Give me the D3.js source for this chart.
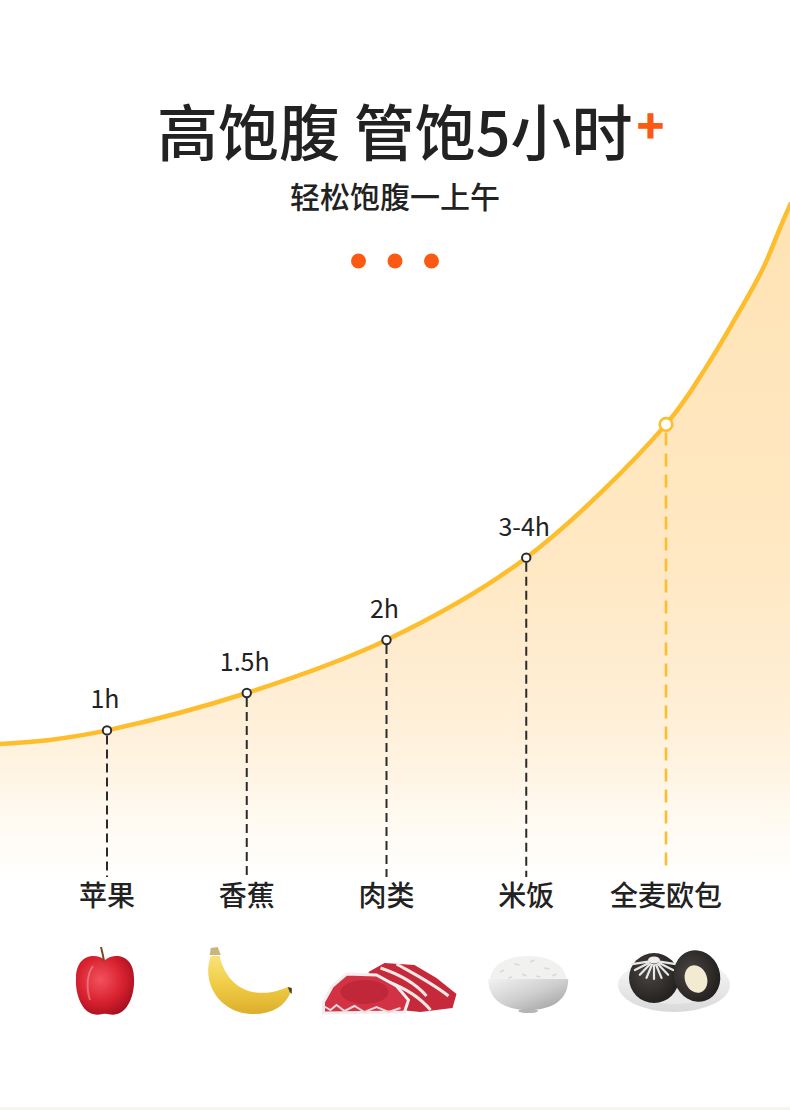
<!DOCTYPE html>
<html><head><meta charset="utf-8">
<script src="https://cdn.jsdelivr.net/npm/d3@7"></script>
<style>html,body{margin:0;padding:0;background:#fff}svg{display:block}</style>
</head><body><svg id="c" width="790" height="1110"></svg>
<script>
// ---- data ----
const categories = ['苹果', '香蕉', '肉类', '米饭', '全麦欧包'];
const durationLabels = ['1h', '1.5h', '2h', '3-4h', ''];
const satietyLevel = [22, 27.5, 35.3, 47.4, 67];   // relative fullness index (curve height)
// extra samples, in category-index units
const leadInIndex = [-0.77, -0.41];
const leadInLevel = [20, 20.6];
const tailIndex = [4.29, 4.53, 4.70, 4.82, 4.89];
const tailLevel = [75.5, 83.8, 90.2, 96.1, 99.4];
const titleText = '高饱腹 管饱5小时';
const titleMark = '+';
const subtitleText = '轻松饱腹一上午';
const foods = ['apple', 'banana', 'meat', 'rice', 'bread'];

// ---- setup ----
const W = 790, H = 1110;
const FONT = '"Noto Sans CJK SC","Noto Sans",sans-serif';
const svg = d3.select('#c');
const defs = svg.append('defs');
const x = d3.scaleLinear().domain([0, categories.length - 1]).range([107, 666]);
const y = d3.scaleLinear().domain([0, 100]).range([880, 200]);
const baseY = 880;

const ag = defs.append('linearGradient').attr('id', 'areaGrad')
  .attr('gradientUnits', 'userSpaceOnUse').attr('x1', 0).attr('x2', 0).attr('y1', 200).attr('y2', baseY);
[[0, '#ffe3b4'], [0.55, '#ffe8c4'], [0.78, '#fff0da'], [0.92, '#fffaf2'], [1, '#ffffff']]
  .forEach(([o, c]) => ag.append('stop').attr('offset', o).attr('stop-color', c));

// ---- title ----
const t = svg.append('text').attr('x', 157).attr('y', 156)
  .attr('font-family', FONT).attr('font-size', 61).attr('font-weight', 500).attr('fill', '#222');
t.append('tspan').text(titleText);
t.append('tspan').attr('fill', '#fc5a14').attr('font-size', 46).attr('font-weight', 900)
  .attr('dx', 4).attr('dy', -13).text(titleMark);

svg.append('text').attr('x', 395).attr('y', 208).attr('text-anchor', 'middle')
  .attr('font-family', FONT).attr('font-size', 30).attr('font-weight', 500).attr('fill', '#222')
  .text(subtitleText);

svg.append('g').selectAll('circle').data([-1, 0, 1]).join('circle')
  .attr('cx', d => 395 + d * 36.5).attr('cy', 261).attr('r', 7.5).attr('fill', '#fc5a14');

// ---- curve ----
const pts = leadInIndex.map((v, i) => [v, leadInLevel[i]])
  .concat(satietyLevel.map((v, i) => [i, v]))
  .concat(tailIndex.map((v, i) => [v, tailLevel[i]]));

const crv = d3.curveCatmullRom.alpha(0.5);
const area = d3.area().x(d => x(d[0])).y0(baseY).y1(d => y(d[1])).curve(crv);
const line = d3.line().x(d => x(d[0])).y(d => y(d[1])).curve(crv);

svg.append('path').attr('d', area(pts)).attr('fill', 'url(#areaGrad)');

const last = categories.length - 1;
svg.append('g').selectAll('line').data(satietyLevel).join('line')
  .attr('x1', (d, i) => x(i)).attr('x2', (d, i) => x(i))
  .attr('y1', d => y(d)).attr('y2', (d, i) => i === last ? 870 : 877)
  .attr('stroke', (d, i) => i === last ? '#fdbd2c' : '#2b2b2b')
  .attr('stroke-width', (d, i) => i === last ? 2.6 : 2)
  .attr('stroke-dasharray', (d, i) => i === last ? '13,8' : '9,5')
  .attr('stroke-dashoffset', (d, i) => i === last ? -8 : -5);

svg.append('path').attr('d', line(pts)).attr('fill', 'none')
  .attr('stroke', '#fdbd2c').attr('stroke-width', 4.5).attr('stroke-linecap', 'round');

svg.append('g').selectAll('circle').data(satietyLevel).join('circle')
  .attr('cx', (d, i) => x(i)).attr('cy', d => y(d))
  .attr('r', (d, i) => i === last ? 6.3 : 4.2)
  .attr('fill', '#fff')
  .attr('stroke', (d, i) => i === last ? '#fdbd2c' : '#2b2b2b')
  .attr('stroke-width', (d, i) => i === last ? 2.6 : 2);

svg.append('g').selectAll('text').data(satietyLevel).join('text')
  .attr('x', (d, i) => x(i) - 2).attr('y', d => y(d) - 22)
  .attr('text-anchor', 'middle').attr('font-family', FONT).attr('font-size', 25)
  .attr('fill', '#222').text((d, i) => durationLabels[i]);

svg.append('g').selectAll('text').data(categories).join('text')
  .attr('x', (d, i) => x(i)).attr('y', 906)
  .attr('text-anchor', 'middle').attr('font-family', FONT).attr('font-size', 28).attr('font-weight', 500)
  .attr('fill', '#222').text(d => d);

// ---- food illustrations ----
function grad(id, type, stops, attrs) {
  const g = defs.append(type).attr('id', id);
  Object.entries(attrs || {}).forEach(([k, v]) => g.attr(k, v));
  stops.forEach(([o, c]) => g.append('stop').attr('offset', o).attr('stop-color', c));
}
grad('appleG', 'radialGradient', [[0, '#f2525e'], [0.6, '#d8212f'], [1, '#a5101f']], { cx: '42%', cy: '40%', r: '65%' });
grad('bananaG', 'linearGradient', [[0, '#f8e27a'], [0.5, '#f0cc45'], [1, '#dcae2c']], { x1: 0, y1: 0, x2: 0, y2: 1 });
grad('bowlG', 'linearGradient', [[0, '#f2f2f2'], [0.5, '#cfcfcf'], [1, '#9c9c9c']], { x1: 0, y1: 0, x2: 1, y2: 1 });
grad('bunG', 'radialGradient', [[0, '#4a4643'], [1, '#1e1b1a']], { cx: '40%', cy: '40%', r: '70%' });
grad('plateG', 'linearGradient', [[0, '#fbfbfb'], [1, '#d9d9d9']], { x1: 0, y1: 0, x2: 0, y2: 1 });

const foodG = svg.append('g');
const draw = {
  apple(g) {
    g.attr('transform', `translate(-2,2)`);
    g.append('path').attr('d', 'M0,-24 C-10,-32 -29,-29 -29,-6 C-30,12 -22,28 -12,30 C-6,32 -2,29 0,30 C2,29 6,32 12,30 C22,28 30,12 29,-6 C29,-29 10,-32 0,-24 Z')
      .attr('fill', 'url(#appleG)');
    g.append('path').attr('d', 'M-1,-23 C-2,-29 -3,-33 -4,-37').attr('stroke', '#7a4a22').attr('stroke-width', 2).attr('fill', 'none');
    g.append('path').attr('d', 'M-12,-18 C-18,-10 -19,4 -15,16').attr('stroke', '#f5a3a8').attr('stroke-width', 2).attr('fill', 'none').attr('opacity', 0.5);
  },
  banana(g) {
    g.append('path').attr('d', 'M-36,-26 C-46,2 -26,31 4,32 C24,33 38,25 44,10 L41,5 C30,10 16,13 2,9 C-16,3 -24,-12 -27,-26 Z')
      .attr('fill', 'url(#bananaG)');
    g.append('path').attr('d', 'M-37,-27 L-36,-34 L-29,-35 L-26,-27 Z').attr('fill', '#c8b67a');
    g.append('path').attr('d', 'M41,5 L45,6 L45,12 L43,10 Z').attr('fill', '#4a3a20');
  },
  meat(g) {
    g.attr('transform', 'translate(4,6)');
    g.append('path').attr('d', 'M-22,-16 L-6,-25 L24,-23 L46,-10 L66,6 L62,20 L30,24 L-10,20 Z').attr('fill', '#c62a3a');
    g.append('path').attr('d', 'M-10,-20 C8,-14 24,-6 36,8 M6,-24 C20,-16 40,-6 58,8 M-2,-6 C14,0 30,10 40,22')
      .attr('stroke', '#f3e7e6').attr('stroke-width', 3).attr('fill', 'none');
    g.append('path').attr('d', 'M-67,14 L-58,-2 L-44,-14 L-14,-13 L6,-2 L18,12 L14,24 L-67,25 Z')
      .attr('fill', '#d23244').attr('stroke', '#f6eeee').attr('stroke-width', 3);
    g.append('ellipse').attr('cx', -26).attr('cy', 4).attr('rx', 24).attr('ry', 12).attr('fill', '#c0283a');
    g.append('path').attr('d', 'M-67,18 L-60,22 L-54,17 L-46,23 L-36,18 L-26,24 L-14,19 L-2,24 L10,20')
      .attr('stroke', '#e8dada').attr('stroke-width', 2).attr('fill', 'none');
  },
  rice(g) {
    g.attr('transform', 'translate(2,0)');
    g.append('path').attr('d', 'M-38,-3 C-37,-18 -20,-26 0,-26 C20,-26 37,-18 38,-3 Z').attr('fill', '#f1f1ef');
    g.append('path').attr('d', 'M-28,-10 l4,-2 M-14,-18 l5,1 M2,-20 l4,-2 M16,-14 l5,1 M-6,-8 l4,2 M24,-6 l4,-2 M-20,-4 l4,-1 M8,-6 l4,1')
      .attr('stroke', '#d8d8d4').attr('stroke-width', 1.5);
    g.append('path').attr('d', 'M-40,-3 L40,-3 C40,18 24,28 0,28 C-24,28 -40,18 -40,-3 Z').attr('fill', 'url(#bowlG)');
    g.append('ellipse').attr('cx', 0).attr('cy', 29).attr('rx', 10).attr('ry', 2).attr('fill', '#b5b5b5');
  },
  bread(g) {
    g.attr('transform', 'translate(8,0)');
    g.append('ellipse').attr('cx', 0).attr('cy', 3).attr('rx', 56).attr('ry', 27).attr('fill', 'url(#plateG)');
    g.append('ellipse').attr('cx', 0).attr('cy', 3).attr('rx', 44).attr('ry', 19).attr('fill', '#e9e9e9');
    g.append('circle').attr('cx', -20).attr('cy', -4).attr('r', 25).attr('fill', 'url(#bunG)');
    const rays = d3.range(-80, 81, 20);
    g.append('g').selectAll('path').data(rays).join('path')
      .attr('d', a => {
        const r = a * Math.PI / 180;
        return `M${-20 + 6 * Math.sin(r)},${-21 + 4 * Math.cos(r)} L${-20 + 22 * Math.sin(r)},${-21 + 18 * Math.cos(r)}`;
      })
      .attr('stroke', '#e8e8e8').attr('stroke-width', 2.2).attr('stroke-linecap', 'round');
    g.append('ellipse').attr('cx', -20).attr('cy', -22).attr('rx', 6).attr('ry', 3.5).attr('fill', '#eee');
    g.append('ellipse').attr('cx', 23).attr('cy', -6).attr('rx', 23).attr('ry', 26).attr('transform', 'rotate(-18,23,-6)').attr('fill', 'url(#bunG)');
    g.append('ellipse').attr('cx', 22).attr('cy', -3).attr('rx', 11).attr('ry', 14).attr('transform', 'rotate(-20,22,-3)').attr('fill', '#f3ead2');
  }
};
foods.forEach((f, i) => {
  const g = foodG.append('g').attr('transform', `translate(${x(i)},${982})`).append('g');
  draw[f](g);
});

svg.append('rect').attr('x', 0).attr('y', H - 3).attr('width', W).attr('height', 3).attr('fill', '#f6f4ec');
</script></body></html>
